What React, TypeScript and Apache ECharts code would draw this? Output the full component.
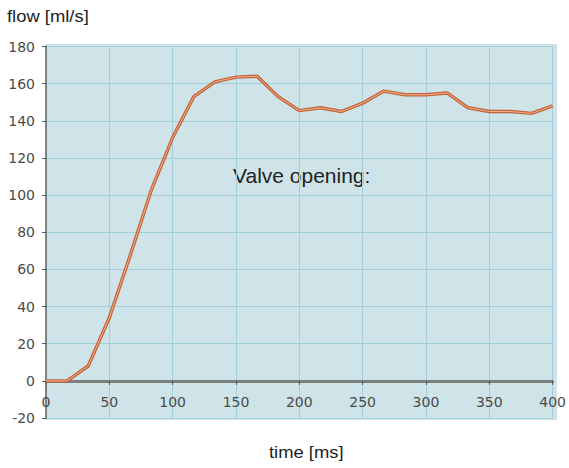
import React, { useEffect, useRef } from "react";
import * as echarts from "echarts";

const times: number[] = [0, 16.7, 33.3, 50, 66.7, 83.3, 100, 116.7, 133.3, 150, 166.7, 183.3, 200, 216.7, 233.3, 250, 266.7, 283.3, 300, 316.7, 333.3, 350, 366.7, 383.3, 400];
const flows: number[] = [0, 0, 8, 34, 68, 103, 131, 153, 161, 163.5, 164, 153, 145.5, 147, 145, 149.5, 156, 154, 154, 155, 147, 145, 145, 144, 148];

const yTitle = "flow [ml/s]";
const xTitle = "time [ms]";
const annotation = "Valve opening:";

export default function App() {
  const ref = useRef<HTMLDivElement>(null);
  useEffect(() => {
    if (!ref.current) return;
    const chart = echarts.init(ref.current, null, { renderer: "svg" });
    const pts = times.map((t, i) => [t, flows[i]]);
    const tickFont = { fontFamily: "DejaVu Sans", fontSize: 14, color: "#4a4a4a" };
    const gridHeight = 371.5;
    const yMin = -20;
    const yMax = 180;
    const zeroOffset = -(0 - yMin) / (yMax - yMin) * gridHeight;
    chart.setOption({
      animation: false,
      backgroundColor: "#ffffff",
      grid: { left: 46, right: 15, top: 46.5, height: gridHeight, containLabel: false },
      graphic: [
        { type: "rect", z: -10, shape: { x: 45, y: 44, width: 512, height: 376 }, style: { fill: "#cfe4e8" } },
        { type: "text", x: 7, y: 8, scaleX: 1.15, style: { text: yTitle, font: "16px 'Liberation Sans', Arial, sans-serif", fill: "#222", textVerticalAlign: "top" } },
        { type: "text", x: 269, y: 444, scaleX: 1.15, style: { text: xTitle, font: "16px 'Liberation Sans', Arial, sans-serif", fill: "#222", textVerticalAlign: "top" } },
        { type: "text", x: 233, y: 165, style: { text: annotation, font: "21px 'Liberation Sans', Arial, sans-serif", fill: "#222", textVerticalAlign: "top" } },
      ],
      xAxis: {
        type: "value",
        min: 0,
        max: 400,
        interval: 50,
        offset: zeroOffset,
        axisLine: { onZero: false, lineStyle: { color: "#7f7f7f", width: 3 } },
        axisTick: { show: true, length: 4, inside: false, lineStyle: { color: "#555", width: 1 } },
        axisLabel: { ...tickFont, margin: 14 },
        splitLine: { show: true, lineStyle: { color: "#a3cfdc", width: 1 } },
      },
      yAxis: {
        type: "value",
        min: yMin,
        max: yMax,
        interval: 20,
        axisLine: { show: true, onZero: false, lineStyle: { color: "#666", width: 1.5 } },
        axisTick: { show: true, length: 4, lineStyle: { color: "#555", width: 1 } },
        axisLabel: { ...tickFont, margin: 11 },
        splitLine: { show: true, lineStyle: { color: "#a3cfdc", width: 1 } },
      },
      series: [
        {
          type: "line",
          data: pts,
          showSymbol: false,
          lineStyle: { color: "#c2643a", width: 3.4 },
          z: 3,
        },
        {
          type: "line",
          data: pts,
          showSymbol: false,
          silent: true,
          lineStyle: { color: "#f5b08a", width: 1 },
          z: 4,
        },
      ],
    });
    return () => chart.dispose();
  }, []);
  return <div ref={ref} style={{ width: 569, height: 468, position: "absolute", left: 0, top: 0 }} />;
}
